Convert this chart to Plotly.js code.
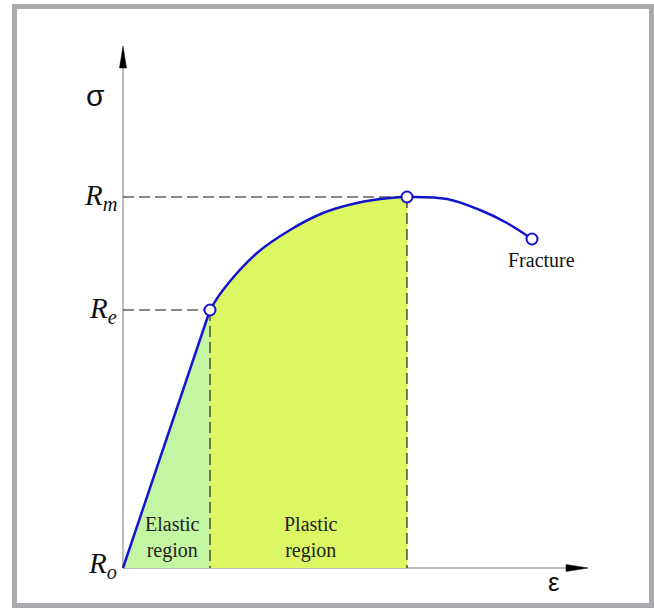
<!DOCTYPE html>
<html>
<head>
<meta charset="utf-8">
<script src="https://cdn.plot.ly/plotly-3.0.1.min.js"></script>
<style>
  html, body { margin: 0; padding: 0; background: #ffffff; }
  #wrap { position: relative; width: 654px; height: 608px; }
  #chart { position: absolute; left: 0; top: 0; width: 654px; height: 608px; }
  #frame { position: absolute; left: 12px; top: 4px; width: 632px; height: 594px;
           border: 5px solid #a9aaae; pointer-events: none; }
</style>
</head>
<body>
<div id="wrap"><div id="chart"></div><div id="frame"></div></div>
<script>
// Stress-strain curve (arbitrary units)
const strain = [0, 87, 100, 134, 167, 200, 234, 267, 284, 324, 357, 384, 409];
const stress = [0, 258, 278, 315, 338, 355, 365, 370, 371, 369, 358, 345, 329];
const yieldIdx = 1, peakIdx = 8, fractureIdx = 12;

const yTickLabels = ['<i>R</i><sub><i>o</i></sub>', '<i>R</i><sub><i>e</i></sub>', '<i>R</i><sub><i>m</i></sub>'];
const regionLabels = ['Elastic<br>region', 'Plastic<br>region'];
const fractureLabel = 'Fracture';
const axisLabels = ['\u03c3', '\u03b5'];

const xMin = -10, xMax = 477, yMin = -10, yMax = 528;
const px = v => (v - xMin) / (xMax - xMin);
const py = v => (v - yMin) / (yMax - yMin);
const blue = '#1414cc';
const serif = 'Liberation Serif, Times New Roman, serif';
const sans = 'Liberation Sans, Arial, sans-serif';

const elX = strain.slice(0, yieldIdx + 1), elY = stress.slice(0, yieldIdx + 1);
const plX = strain.slice(yieldIdx, peakIdx + 1), plY = stress.slice(yieldIdx, peakIdx + 1);
const tailX = strain.slice(yieldIdx), tailY = stress.slice(yieldIdx);
const yS = stress[yieldIdx], yE = strain[yieldIdx];
const pS = stress[peakIdx], pE = strain[peakIdx];

const dashLine = {color: '#111111', width: 1.1, dash: '11px,5px'};

const traces = [
  {x: elX, y: elY, mode: 'lines', fill: 'tozeroy', fillcolor: '#c3f6a3',
   line: {width: 0, color: 'rgba(0,0,0,0)'}, hoverinfo: 'skip'},
  {x: plX, y: plY, mode: 'lines', fill: 'tozeroy', fillcolor: '#dcf763',
   line: {width: 0, color: 'rgba(0,0,0,0)', shape: 'spline'}, hoverinfo: 'skip'},
  {x: [0, yE], y: [yS, yS], mode: 'lines', line: dashLine},
  {x: [yE, yE], y: [yS, 0], mode: 'lines', line: dashLine},
  {x: [0, pE], y: [pS, pS], mode: 'lines', line: dashLine},
  {x: [pE, pE], y: [pS, 0], mode: 'lines', line: dashLine},
  {x: elX, y: elY, mode: 'lines', line: {color: blue, width: 2.5}},
  {x: tailX, y: tailY, mode: 'lines', line: {color: blue, width: 2.5, shape: 'spline', smoothing: 1}},
  {x: [strain[yieldIdx], strain[peakIdx], strain[fractureIdx]],
   y: [stress[yieldIdx], stress[peakIdx], stress[fractureIdx]],
   mode: 'markers', marker: {symbol: 'circle', size: 11, color: '#ffffff', line: {color: blue, width: 2}}}
];

const tickVals = [stress[0], stress[yieldIdx], stress[peakIdx]];
const tickAnn = tickVals.map((v, i) => ({
  x: px(-4), y: v, xref: 'paper', yref: 'y', xanchor: 'right', yanchor: 'middle',
  text: yTickLabels[i], showarrow: false, yshift: i === 0 ? 3 : 0,
  font: {family: serif, size: 29, color: '#111111'}
}));

const annotations = tickAnn.concat([
  {x: (strain[0] + strain[yieldIdx]) / 2, y: 31, xref: 'x', yref: 'y', text: regionLabels[0],
   showarrow: false, font: {family: serif, size: 20, color: '#222222'}, align: 'center', xshift: 6},
  {x: (strain[yieldIdx] + strain[peakIdx]) / 2, y: 31, xref: 'x', yref: 'y', text: regionLabels[1],
   showarrow: false, font: {family: serif, size: 20, color: '#222222'}, align: 'center', xshift: 2},
  {x: strain[fractureIdx], y: stress[fractureIdx], xref: 'x', yref: 'y', text: fractureLabel,
   showarrow: false, font: {family: serif, size: 20, color: '#111111'}, xshift: 9, yshift: -21},
  {x: px(-28), y: py(473), xref: 'paper', yref: 'paper', xanchor: 'center', yanchor: 'middle',
   text: axisLabels[0], showarrow: false, font: {family: sans, size: 30, color: '#111111'}},
  {x: px(431), y: py(-14), xref: 'paper', yref: 'paper', xanchor: 'center', yanchor: 'middle',
   text: axisLabels[1], showarrow: false, font: {family: sans, size: 26, color: '#111111'}}
]);

// axis lines and arrowheads
const yTip = 522, xTip = 465, headLen = 22, headHalf = 3.5;
const shapes = [
  {type: 'line', xref: 'x', yref: 'y', x0: 0, y0: 0, x1: 0, y1: yTip - headLen, line: {color: '#777777', width: 1}, layer: 'below'},
  {type: 'line', xref: 'x', yref: 'y', x0: 0, y0: 0, x1: xTip - headLen, y1: 0, line: {color: '#777777', width: 1}, layer: 'below'},
  {type: 'path', xref: 'x', yref: 'y',
   path: `M 0,${yTip} L ${-headHalf},${yTip - headLen} L ${headHalf},${yTip - headLen} Z`,
   fillcolor: '#000000', line: {color: '#000000', width: 0.5}},
  {type: 'path', xref: 'x', yref: 'y',
   path: `M ${xTip},0 L ${xTip - headLen},${headHalf} L ${xTip - headLen},${-headHalf} Z`,
   fillcolor: '#000000', line: {color: '#000000', width: 0.5}}
];

const layout = {
  width: 654, height: 608,
  margin: {l: 113, r: 54, t: 40, b: 30},
  paper_bgcolor: '#ffffff', plot_bgcolor: 'rgba(0,0,0,0)',
  showlegend: false,
  xaxis: {range: [xMin, xMax], showgrid: false, zeroline: false, showline: false,
          showticklabels: false, ticks: ''},
  yaxis: {range: [yMin, yMax], showgrid: false, zeroline: false, showline: false, ticks: '',
          showticklabels: false},
  annotations: annotations,
  shapes: shapes
};

Plotly.newPlot('chart', traces, layout, {displayModeBar: false, staticPlot: true});
</script>
</body>
</html>
